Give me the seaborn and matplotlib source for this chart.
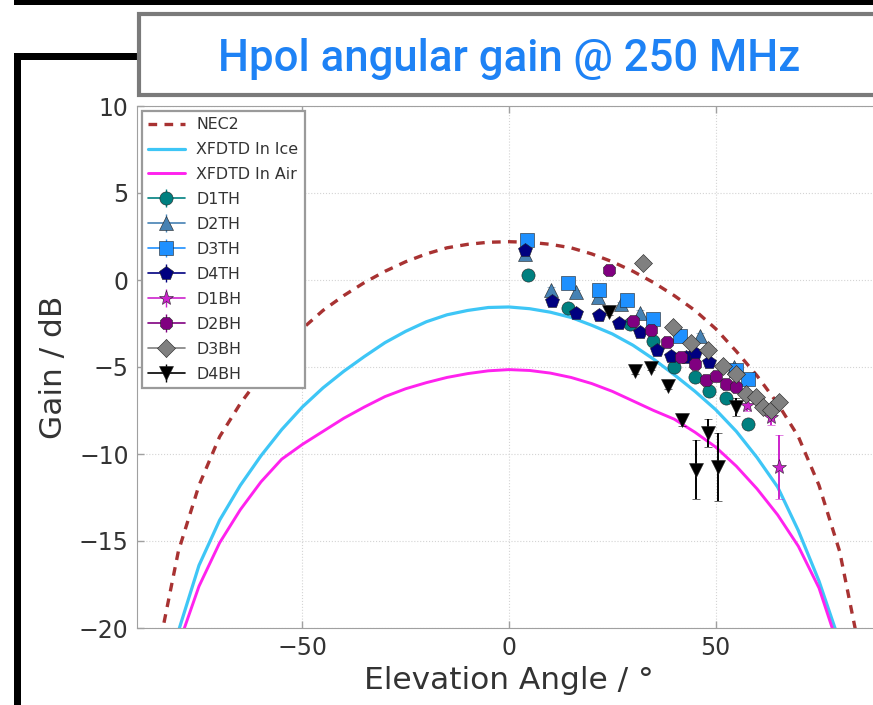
import matplotlib
matplotlib.use("Agg")
import matplotlib.pyplot as plt
from matplotlib.lines import Line2D
from matplotlib.patches import Rectangle
import numpy as np
import pandas as pd
import seaborn as sns

# ---- simulated antenna gain curves (dB) vs elevation angle (deg) ----
model_angle = [-85, -80, -75, -70, -65, -60, -55, -50, -45, -40, -35, -30, -25, -20, -15, -10, -5,
               0, 5, 10, 15, 20, 25, 30, 35, 40, 45, 50, 55, 60, 65, 70, 75, 80, 85]
nec2_gain = [-21.5, -15.6, -11.8, -9.0, -7.1, -5.5, -4.1, -2.8, -1.75, -0.9, -0.15, 0.5, 1.05, 1.5, 1.85, 2.05, 2.17,
             2.2, 2.17, 2.05, 1.85, 1.5, 1.05, 0.5, -0.15, -0.9, -1.75, -2.8, -4.1, -5.5, -7.1, -9.0, -11.8, -15.6, -21.5]
ice_gain = [-24.0, -20.2, -16.4, -13.8, -11.8, -10.1, -8.6, -7.3, -6.2, -5.25, -4.4, -3.6, -2.95, -2.4, -2.0, -1.75, -1.58,
            -1.55, -1.65, -1.85, -2.15, -2.6, -3.1, -3.75, -4.55, -5.45, -6.4, -7.45, -8.7, -10.2, -11.9, -14.4, -17.3, -20.8, -25.0]
air_gain = [-26.0, -21.0, -17.6, -15.1, -13.2, -11.6, -10.3, -9.45, -8.7, -7.95, -7.3, -6.7, -6.25, -5.9, -5.6, -5.38, -5.22,
            -5.15, -5.2, -5.35, -5.6, -5.95, -6.4, -6.95, -7.5, -8.0, -8.75, -9.6, -10.7, -12.0, -13.5, -15.3, -17.7, -21.3, -26.0]

# ---- measured gain per station/channel ----
d1th_x = [4.5, 14.3, 29.2, 34.8, 40.0, 44.9, 48.5, 52.5, 57.8]
d1th_y = [0.3, -1.6, -2.5, -3.5, -5.0, -5.55, -6.4, -6.8, -8.3]
d1th_e = [0.15] * 9

d2th_x = [3.8, 10.2, 16.2, 21.5, 27.1, 31.6, 41.3, 46.1, 54.5]
d2th_y = [1.5, -0.55, -0.7, -1.0, -1.4, -1.9, -3.1, -3.2, -5.0]
d2th_e = [0.15] * 9

d3th_x = [4.3, 14.2, 21.7, 28.5, 34.8, 41.3, 55.0, 57.8]
d3th_y = [2.3, -0.15, -0.55, -1.15, -2.25, -3.2, -5.2, -5.7]
d3th_e = [0.15] * 8

d4th_x = [3.8, 10.3, 16.3, 21.8, 26.7, 31.6, 35.9, 39.2, 42.9, 44.9, 48.5]
d4th_y = [1.7, -1.2, -1.9, -2.0, -2.45, -3.0, -4.0, -4.35, -4.4, -4.2, -4.7]
d4th_e = [0.15] * 11

d1bh_x = [57.6, 63.4, 65.4]
d1bh_y = [-7.2, -7.9, -10.75]
d1bh_e = [0.3, 0.45, 1.85]

d2bh_x = [24.2, 30.1, 34.3, 38.3, 41.7, 44.9, 47.7, 50.1, 52.5, 55.0]
d2bh_y = [0.55, -2.35, -2.87, -3.55, -4.4, -4.8, -5.75, -5.5, -6.0, -6.15]
d2bh_e = [0.15] * 10

d3bh_x = [32.5, 39.6, 44.1, 48.1, 51.7, 55.0, 57.4, 59.8, 61.4, 63.4, 65.4]
d3bh_y = [0.95, -2.7, -3.6, -4.05, -4.95, -5.4, -6.55, -6.7, -7.3, -7.45, -7.0]
d3bh_e = [0.15] * 11

d4bh_x = [24.3, 30.4, 34.4, 38.4, 41.9, 45.3, 48.1, 50.5, 55.0]
d4bh_y = [-1.85, -5.25, -5.05, -6.1, -8.05, -10.9, -8.8, -10.75, -7.3]
d4bh_e = [0.15, 0.15, 0.15, 0.15, 0.35, 1.7, 0.8, 1.95, 0.5]

x_ticks = [-50, 0, 50]
y_ticks = [-20, -15, -10, -5, 0, 5, 10]

sns.set_style("whitegrid", rc={
    "axes.edgecolor": "#a0a0a0",
    "axes.linewidth": 1.8,
    "grid.color": "#d4d4d4",
    "grid.linestyle": ":",
    "grid.linewidth": 1.1,
    "text.color": "#333333",
    "axes.labelcolor": "#333333",
    "xtick.color": "#333333",
    "ytick.color": "#333333",
})
plt.rcParams["font.family"] = ["DejaVu Sans"]

W, H = 873, 705
fig = plt.figure(figsize=(W / 100, H / 100), dpi=100)


def fx(px):
    return px / W


def fy(py):
    return 1 - py / H


# slide decorations: top rule, left bracket and title box
fig.add_artist(Rectangle((fx(14), fy(5)), 1.0, 5 / H, transform=fig.transFigure,
                         facecolor="black", edgecolor="none", zorder=0))
fig.add_artist(Rectangle((fx(14), 0), 7 / W, fy(53), transform=fig.transFigure,
                         facecolor="black", edgecolor="none", zorder=0))
fig.add_artist(Rectangle((fx(14), fy(60)), 126 / W, 7 / H, transform=fig.transFigure,
                         facecolor="black", edgecolor="none", zorder=0))
fig.add_artist(Rectangle((fx(139), fy(95)), 1.0, 81 / H, transform=fig.transFigure,
                         facecolor="white", edgecolor="#7a7a7a", linewidth=3.0, zorder=1))
fig.text(fx(509), fy(71), "Hpol angular gain @ 250 MHz", ha="center", va="baseline",
         color="#1e82f5", fontsize=31.5, fontweight="medium",
         family=["Roboto", "DejaVu Sans"])

ax = fig.add_axes([fx(137), fy(628), (881 - 137) / W, (628 - 106) / H])

models = pd.DataFrame({"angle": model_angle, "NEC2": nec2_gain,
                       "XFDTD In Ice": ice_gain, "XFDTD In Air": air_gain})

sns.lineplot(data=models, x="angle", y="NEC2", ax=ax, color="#a83232", linewidth=2.4,
             linestyle=(0, (2.6, 2.2)), label="NEC2", zorder=2)
sns.lineplot(data=models, x="angle", y="XFDTD In Ice", ax=ax, color="#3ec6f6", linewidth=2.3,
             label="XFDTD In Ice", zorder=2)
sns.lineplot(data=models, x="angle", y="XFDTD In Air", ax=ax, color="#ff22ee", linewidth=2.1,
             label="XFDTD In Air", zorder=2)

series = [
    ("D1TH", d1th_x, d1th_y, d1th_e, "#008080", "o", 9.5),
    ("D2TH", d2th_x, d2th_y, d2th_e, "#4682b4", "^", 9.5),
    ("D3TH", d3th_x, d3th_y, d3th_e, "#1e90ff", "s", 9.5),
    ("D4TH", d4th_x, d4th_y, d4th_e, "#000080", "p", 10),
    ("D1BH", d1bh_x, d1bh_y, d1bh_e, "#cc22cc", "*", 11),
    ("D2BH", d2bh_x, d2bh_y, d2bh_e, "#800080", "8", 9.5),
    ("D3BH", d3bh_x, d3bh_y, d3bh_e, "#808080", "D", 9),
    ("D4BH", d4bh_x, d4bh_y, d4bh_e, "#000000", "v", 10),
]

handles = []
for name, xs, ys, es, col, mk, ms in series:
    ax.errorbar(xs, ys, yerr=es, fmt=mk, color=col, ms=ms, mec="#222222", mew=0.4,
                elinewidth=1.4, capsize=3, capthick=1.2, zorder=3, label="_nolegend_")
    handles.append((Line2D([], [], color=col, lw=1.2),
                    Line2D([], [], color=col, marker="|", ls="none", ms=13, mew=1.0),
                    Line2D([], [], color=col, marker=mk, ls="none", ms=ms, mec="#222222", mew=0.4)))

line_handles, line_labels = ax.get_legend_handles_labels()
leg = ax.legend(line_handles[:3] + handles,
                line_labels[:3] + [s[0] for s in series],
                loc="upper left", fontsize=11.4, labelspacing=0.63, handlelength=2.3,
                handletextpad=0.75, borderpad=0.4, borderaxespad=0.3, numpoints=1,
                frameon=True, fancybox=False, framealpha=1.0, edgecolor="#9a9a9a")
leg.get_frame().set_linewidth(1.6)
for t in leg.get_texts():
    t.set_color("#333333")

ax.set_xlim(-90, 90)
ax.set_ylim(-20, 10)
ax.set_xticks(x_ticks)
ax.set_yticks(y_ticks)
ax.set_xticklabels([f"{v:d}".replace("-", "\u2212") for v in x_ticks])
ax.set_yticklabels([f"{v:d}".replace("-", "\u2212") for v in y_ticks])
ax.tick_params(axis="both", which="major", labelsize=17, direction="in", length=5, width=1,
               color="#a0a0a0", bottom=True, left=True, top=True, right=True, pad=6)
ax.set_xlabel("Elevation Angle / \u00b0", fontsize=22.5, labelpad=4)
ax.set_ylabel("Gain / dB", fontsize=22.5, labelpad=8)
ax.grid(True)

fig.savefig("out.png", dpi=100)
